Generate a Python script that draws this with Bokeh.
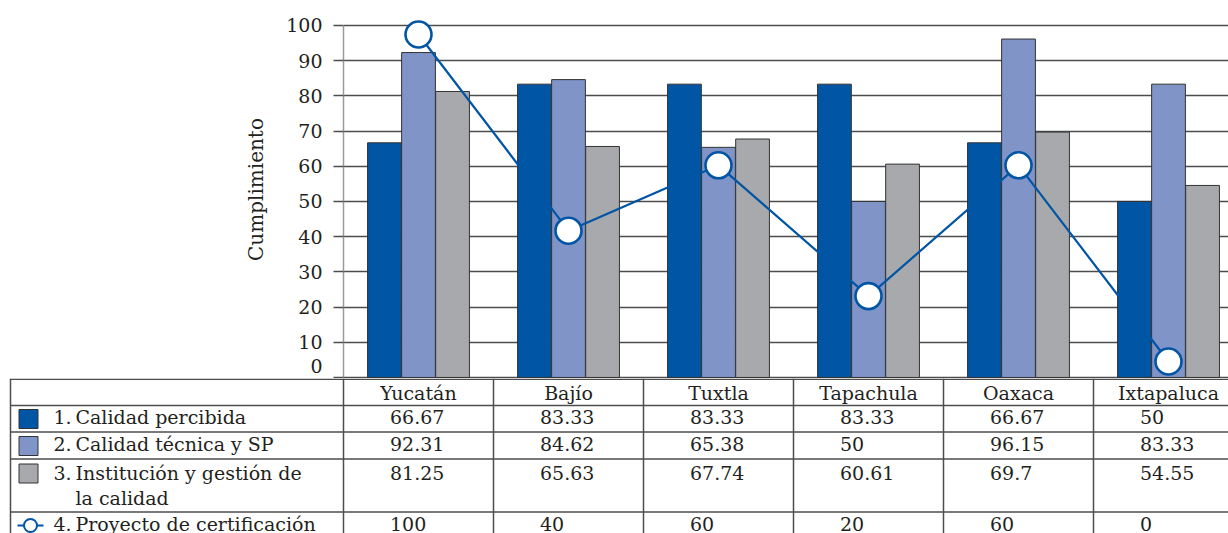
import numpy as np
from bokeh.plotting import figure
from bokeh.models import Range1d, FixedTicker
from bokeh.core.properties import value
from bokeh.embed import file_html
from bokeh.resources import INLINE

# ---- data -------------------------------------------------------------
sites = ["Yucatán", "Bajío", "Tuxtla", "Tapachula", "Oaxaca", "Ixtapaluca"]
calidad_percibida = [66.67, 83.33, 83.33, 83.33, 66.67, 50]
calidad_tecnica = [92.31, 84.62, 65.38, 50, 96.15, 83.33]
institucion_gestion = [81.25, 65.63, 67.74, 60.61, 69.7, 54.55]
proyecto_certificacion = [100, 40, 60, 20, 60, 0]
series_names = [
    "Calidad percibida",
    "Calidad técnica y SP",
    "Institución y gestión de\nla calidad",
    "Proyecto de certificación",
]
y_ticks = [0, 10, 20, 30, 40, 50, 60, 70, 80, 90, 100]
y_label = "Cumplimiento"

# ---- styling / layout -------------------------------------------------
DARK_BLUE = "#0055a4"
LIGHT_BLUE = "#8094c8"
GREY = "#a7a9ac"
INK = "#231f20"
RULE = "#4d4d4d"
FONT = value("DejaVu Serif")

W = 1228
H_CHART = 378
H_TABLE = 155
LEFT = 343          # width of the label column / y-axis area
UNIT = 150          # pixels per site column
x_start = -0.5
x_end = x_start + (W - LEFT) / UNIT

# ---- chart ------------------------------------------------------------
p = figure(width=W, height=H_CHART,
           x_range=Range1d(x_start, x_end), y_range=Range1d(-0.3, 107.1),
           x_axis_type=None, output_backend="svg", toolbar_location=None,
           min_border_left=LEFT, min_border_right=0,
           min_border_top=0, min_border_bottom=0)
p.outline_line_color = None
p.background_fill_color = "white"

# secondary scale for the certification line
p.extra_y_ranges = {"cert": Range1d(-5.2, 110.4)}

ax = p.yaxis[0]
ax.ticker = FixedTicker(ticks=y_ticks)
ax.bounds = (0, 100)
# lift the zero label a little, clear of the table's top rule
ax.major_label_overrides = {0: "0\n"}
ax.major_label_text_line_height = 0.05
ax.axis_label = y_label
ax.axis_label_text_font = "DejaVu Serif"
ax.axis_label_text_font_size = "20px"
ax.axis_label_text_font_style = "normal"
ax.axis_label_text_color = INK
ax.axis_label_standoff = 15
ax.major_label_text_font = "DejaVu Serif"
ax.major_label_text_font_size = "19px"
ax.major_label_text_color = INK
ax.major_label_standoff = 11
ax.major_tick_out = 10
ax.major_tick_in = 0
ax.major_tick_line_color = RULE
ax.major_tick_line_width = 1.5
ax.minor_tick_line_color = None
ax.axis_line_color = "#9a9a9a"
ax.axis_line_width = 1.5

p.ygrid.ticker = FixedTicker(ticks=y_ticks)
p.ygrid.grid_line_color = RULE
p.ygrid.grid_line_width = 1.5

idx = np.arange(len(sites))
bar_w = 0.225
for off, vals, col in [(-0.227, calidad_percibida, DARK_BLUE),
                       (0.0, calidad_tecnica, LIGHT_BLUE),
                       (0.227, institucion_gestion, GREY)]:
    p.vbar(x=idx + off, top=vals, bottom=0, width=bar_w,
           fill_color=col, line_color="#333333", line_width=1)

p.line(x=idx, y=proyecto_certificacion, y_range_name="cert",
       line_color=DARK_BLUE, line_width=2.2)
p.scatter(x=idx, y=proyecto_certificacion, y_range_name="cert",
          marker="circle", size=26, fill_color="white",
          line_color=DARK_BLUE, line_width=2.6)

# ---- data table -------------------------------------------------------
t = figure(width=W, height=H_TABLE,
           x_range=Range1d(x_start - LEFT / UNIT, x_end),
           y_range=Range1d(H_TABLE, 0),
           x_axis_type=None, y_axis_type=None,
           output_backend="svg", toolbar_location=None,
           min_border_left=0, min_border_right=0,
           min_border_top=0, min_border_bottom=0)
t.outline_line_color = None


def px(xp):
    """Page x (pixels) to table x coordinate."""
    return x_start + (xp - LEFT) / UNIT


# rules
row_edges = [0.75, 27, 53.5, 80.5, 133.5]
t.segment(x0=[px(10)] * len(row_edges), x1=[x_end] * len(row_edges),
          y0=row_edges, y1=row_edges, line_color=RULE, line_width=1.5)
col_edges = [px(10)] + [i - 0.5 for i in range(len(sites))]
t.segment(x0=col_edges, x1=col_edges, y0=[0] * len(col_edges),
          y1=[H_TABLE] * len(col_edges), line_color=RULE, line_width=1.5)

text_kw = dict(text_font=FONT, text_font_size="19px", text_color=INK,
               text_baseline="alphabetic")

# header: site names
t.text(x=list(idx), y=[14.5] * len(sites), text=sites,
       text_align="center", **text_kw)

# values
row_base = [38, 65.5, 94, 145.5]
series = [calidad_percibida, calidad_tecnica, institucion_gestion,
          proyecto_certificacion]
for base, vals in zip(row_base, series):
    t.text(x=list(idx - 0.19), y=[base] * len(vals),
           text=[f"{v:g}" for v in vals], text_align="left", **text_kw)

# legend column
nums, nys, labs, lys = [], [], [], []
for k, (name, base) in enumerate(zip(series_names, row_base)):
    nums.append(f"{k + 1}.")
    nys.append(base)
    for j, part in enumerate(name.split("\n")):
        labs.append(part)
        lys.append(base + 25 * j)
t.text(x=[px(53)] * len(nums), y=nys, text=nums, text_align="left", **text_kw)
t.text(x=[px(75)] * len(labs), y=lys, text=labs, text_align="left", **text_kw)

t.scatter(x=[px(28)] * 3, y=[40.5, 67.5, 95], marker="square", size=19,
          fill_color=[DARK_BLUE, LIGHT_BLUE, GREY], line_color="#333333",
          line_width=1)
t.segment(x0=[px(17)], x1=[px(43)], y0=[147], y1=[147],
          line_color=DARK_BLUE, line_width=2)
t.scatter(x=[px(30)], y=[147], marker="circle", size=13, fill_color="white",
          line_color=DARK_BLUE, line_width=2)

# two independent roots, stacked, so the table frame spans the full width
open("out.html", "w").write(file_html([p, t], INLINE))
